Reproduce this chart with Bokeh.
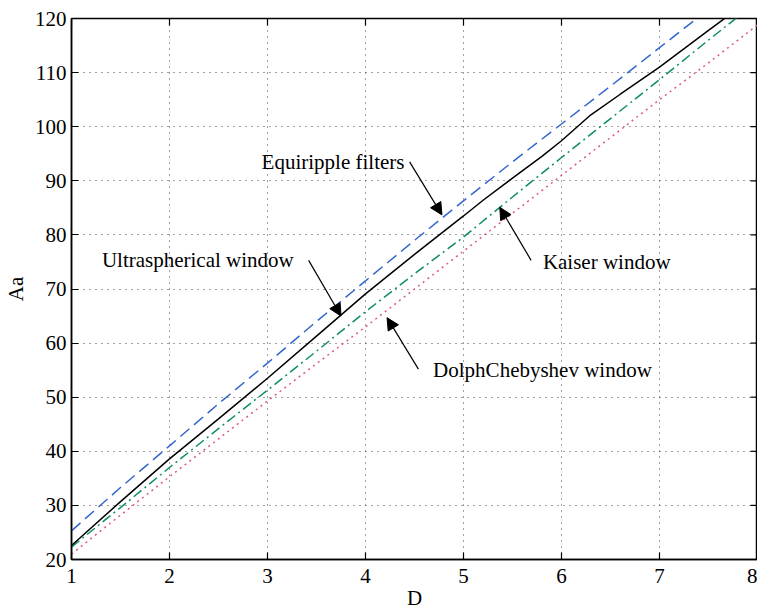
from bokeh.plotting import figure
from bokeh.models import Range1d, Label, Arrow, NormalHead, FixedTicker
from bokeh.embed import file_html
from bokeh.resources import INLINE

# Data
D = [1, 1.5, 2, 2.5, 3, 3.5, 4, 4.5, 5, 5.5, 6, 6.5, 7, 7.5, 8]
equiripple = [25.3, 33.3, 41.0, 48.8, 56.3, 64.0, 71.5, 79.0, 86.3, 93.5, 100.5, 107.5, 114.6, 121.7, 128.8]
kaiser = [22.3, 29.6, 37.0, 44.2, 51.3, 58.5, 65.8, 72.8, 79.6, 87.0, 94.3, 101.5, 108.7, 116.0, 123.2]
dolph = [21.0, 28.2, 35.3, 42.3, 49.3, 56.2, 63.0, 70.0, 77.0, 84.0, 91.0, 98.0, 105.0, 111.8, 118.8]
D_ultra = [1, 1.5, 2, 2.5, 3, 3.5, 4, 4.5, 5, 5.2, 5.5, 5.8, 6, 6.3, 6.6, 7, 7.5, 8]
ultra = [22.6, 30.7, 38.6, 46.0, 53.5, 61.3, 69.1, 76.4, 83.5, 86.4, 90.5, 94.5, 97.4, 102.2, 106.0, 111.0, 117.8, 124.5]

x_ticks = [1, 2, 3, 4, 5, 6, 7, 8]
y_ticks = [20, 30, 40, 50, 60, 70, 80, 90, 100, 110, 120]

FONT = "Liberation Serif"

p = figure(width=757, height=612, output_backend="svg", toolbar_location=None,
           x_range=Range1d(1, 8), y_range=Range1d(20, 120),
           min_border_left=69, min_border_right=0, min_border_top=18, min_border_bottom=51,
           background_fill_color="white", border_fill_color="white")

p.outline_line_color = "black"
p.outline_line_width = 1.5

for ax in (p.xaxis[0], p.yaxis[0]):
    ax.axis_line_width = 1.5
    ax.major_tick_in = 7
    ax.major_tick_out = 0
    ax.minor_tick_line_color = None
    ax.major_tick_line_width = 1.2
    ax.major_label_text_font = FONT
    ax.major_label_text_font_size = "21px"
    ax.major_label_text_color = "black"
    ax.axis_label_text_font = FONT
    ax.axis_label_text_font_size = "21px"
    ax.axis_label_text_font_style = "normal"
    ax.axis_label_text_color = "black"

p.xaxis.ticker = FixedTicker(ticks=x_ticks)
p.yaxis.ticker = FixedTicker(ticks=y_ticks)
p.xaxis.axis_label = "D"
p.yaxis.axis_label = "Aa"
p.xaxis.major_label_standoff = 9
p.yaxis.major_label_standoff = 5
p.xaxis.axis_label_standoff = 0
p.yaxis.axis_label_standoff = 4

p.xgrid.ticker = FixedTicker(ticks=x_ticks)
p.ygrid.ticker = FixedTicker(ticks=y_ticks)
for g in (p.xgrid[0], p.ygrid[0]):
    g.grid_line_color = "#444444"
    g.grid_line_dash = "1 5"
    g.grid_line_width = 1

# mirrored inward ticks on the top and right edges of the box
tick_len_y = 7 / 5.43   # 7 px expressed in y data units
tick_len_x = 7 / 98.4   # 7 px expressed in x data units
p.segment(x0=x_ticks, y0=[120] * len(x_ticks), x1=x_ticks, y1=[120 - tick_len_y] * len(x_ticks),
          line_color="black", line_width=1.2)
p.segment(x0=[8] * len(y_ticks), y0=y_ticks, x1=[8 - tick_len_x] * len(y_ticks), y1=y_ticks,
          line_color="black", line_width=1.2)

p.line(D, equiripple, line_color="#3366CC", line_width=1.5, line_dash="12 6")
p.line(D, kaiser, line_color="#0E8F5C", line_width=1.5, line_dash="10 4 2 4")
p.line(D, dolph, line_color="#E0558A", line_width=1.5, line_dash="2 4")
p.line(D_ultra, ultra, line_color="black", line_width=1.5)

labels = [
    ("Ultraspherical window", 1.31, 75.4),
    ("Equiripple filters", 2.94, 93.5),
    ("Kaiser window", 5.81, 74.9),
    ("DolphChebyshev window", 4.69, 55.0),
]
for t, x, y in labels:
    p.add_layout(Label(x=x, y=y, text=t, text_font=FONT, text_font_size="21px",
                       text_baseline="middle", text_align="left", text_color="black"))

arrows = [
    (3.42, 75.3, 3.75, 65.0),
    (4.45, 93.5, 4.78, 83.7),
    (5.69, 75.3, 5.37, 85.1),
    (4.54, 55.2, 4.22, 64.7),
]
for x0, y0, x1, y1 in arrows:
    p.add_layout(Arrow(x_start=x0, y_start=y0, x_end=x1, y_end=y1, line_width=1.2,
                       line_color="black",
                       end=NormalHead(size=12, fill_color="black", line_color="black")))

open("out.html", "w").write(file_html(p, INLINE))
